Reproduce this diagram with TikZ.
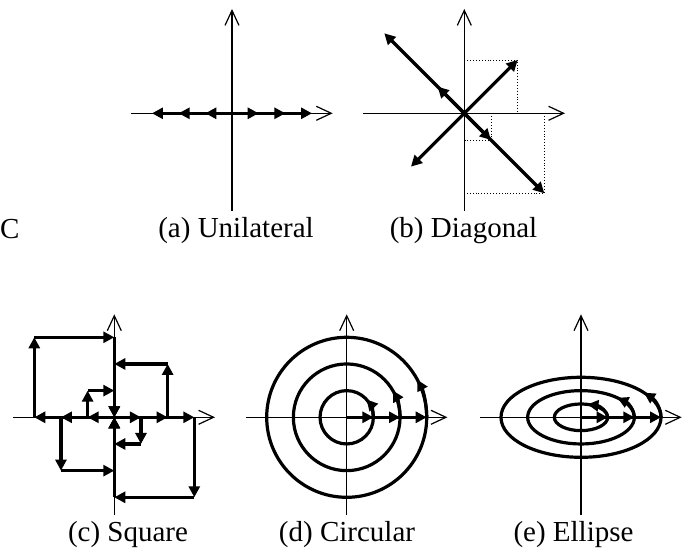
\documentclass[tikz,border=0pt]{standalone}
\usepackage{fontspec}
\setmainfont{Liberation Serif}
\usetikzlibrary{arrows.meta,calc}

\begin{document}
\begin{tikzpicture}[x=1pt,y=1pt,
  ax/.style={line width=1.2pt,-{Straight Barb[length=15pt,width=14pt]}},
  th/.style={line width=3.2pt,-{Triangle[length=11pt,width=11pt]}},
  ring/.style={line width=3.2pt},
  dt/.style={line width=0.9pt,dotted},
  lab/.style={font=\fontsize{29}{34}\selectfont,inner sep=0pt,anchor=base}]
  \useasboundingbox (0,0) rectangle (686,552);
  \def\u{26.67}
  % origins of the five panels
  \coordinate (oa) at (232,438.7); \coordinate (ob) at (464.3,438.7);
  \coordinate (oc) at (114.3,134.7); \coordinate (od) at (346.7,134.7); \coordinate (oe) at (581,134.7);
  % axes
  \foreach \o/\t in {oa/104.3,ob/104.3,oc/103,od/103,oe/103} {
    \draw[ax] ($(\o)+(-101,0)$) -- ($(\o)+(100.7,0)$);
    \draw[ax] ($(\o)+(0,-97.5)$) -- ($(\o)+(0,\t)$);
  }
  % (a) unilateral
  \foreach \k in {1,2,3} {
    \draw[th] (oa) -- ++(-\k*\u,0);
    \draw[th] (oa) -- ++(\k*\u,0);
  }
  % (b) diagonal, dotted projections first
  \draw[dt] ($(ob)+(0,2*\u)$) -| ($(ob)+(2*\u,0)$);
  \foreach \k in {1,3} \draw[dt] ($(ob)+(\k*\u,0)$) |- ($(ob)+(0,-\k*\u)$);
  \foreach \dx/\dy in {-3/3,-1/1,-2/-2,2/2,3/-3,1/-1} \draw[th] (ob) -- ++(\dx*\u,\dy*\u);
  % (c) square: one loop per entry
  \foreach \k/\sx/\sy in {3/-1/1,2/-1/-1,1/-1/1,1/1/-1,2/1/1,3/1/-1} {
    \coordinate (p1) at ($(oc)+(\sx*\k*\u,0)$);
    \coordinate (p2) at ($(oc)+(\sx*\k*\u,\sy*\k*\u)$);
    \coordinate (p3) at ($(oc)+(0,\sy*\k*\u)$);
    \draw[th] (oc) -- (p1); \draw[th] (p1) -- (p2);
    \draw[th] (p2) -- (p3); \draw[th] (p3) -- (oc);
  }
  % (d) circular
  \foreach \k/\a in {1/42,2/30,3/28} {
    \draw[ring] (od) circle (\k*\u);
    \draw[th] ($(od)+(\k*\u,0)$) arc (0:\a:\k*\u);
    \draw[th] (od) -- ++(\k*\u,0);
  }
  % (e) ellipse
  \foreach \k/\a in {1/76,2/47,3/38} {
    \draw[ring] (oe) ellipse [x radius=\k*\u, y radius=\k*\u/2];
    \draw[th] ($(oe)+(\k*\u,0)$) arc [start angle=0, end angle=\a, x radius=\k*\u, y radius=\k*\u/2];
    \draw[th] (oe) -- ++(\k*\u,0);
  }
  % captions
  \node[lab] (capa) at (236,314.7) {(a) Unilateral};
  \node[lab] (capb) at (463.5,314.7) {(b) Diagonal};
  \node[lab] (capc) at (128,10.7) {(c) Square};
  \node[lab] (capd) at (347,10.7) {(d) Circular};
  \node[lab] (cape) at (573.5,10.7) {(e) Ellipse};
  \node[lab,anchor=base west] (capx) at (0,313.7) {C};
\end{tikzpicture}
\end{document}
